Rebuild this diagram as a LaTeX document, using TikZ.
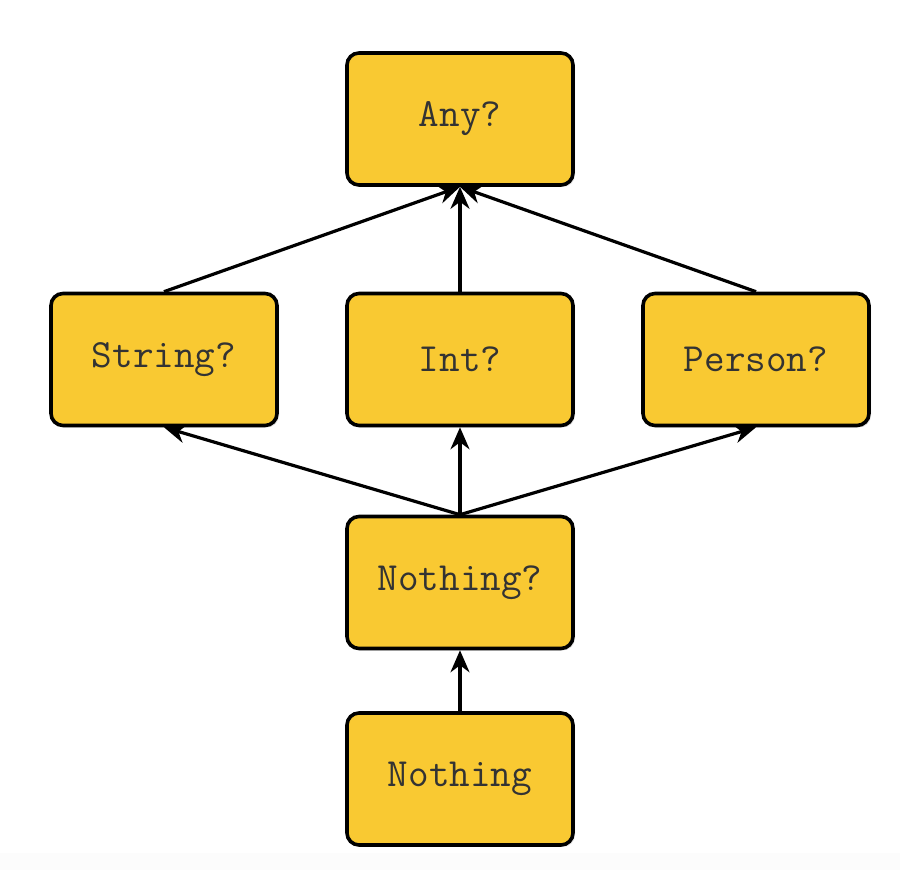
\documentclass[tikz,border=0pt]{standalone}
\usepackage{fontspec}
\usetikzlibrary{arrows.meta,shadows}
\definecolor{boxfill}{HTML}{F9C932}
\definecolor{txt}{HTML}{333333}
\begin{document}
\begin{tikzpicture}[x=1pt,y=1pt,
  typebox/.style={draw=black, line width=3.6pt, fill=boxfill, rounded corners=12pt,
    minimum width=226pt, minimum height=132pt, inner sep=0pt, text=txt,
    font=\ttfamily\fontsize{40}{44}\selectfont,
    drop shadow={shadow xshift=2pt, shadow yshift=-2pt, opacity=0.12, fill=black}},
  link/.style={draw=black, line width=3.2pt, -{Stealth[length=22pt,width=19pt,inset=7pt]}}]
\useasboundingbox (0,0) rectangle (900,870);
\fill[white] (0,0) rectangle (900,870);
\fill[black!1.2] (0,0) rectangle (900,17);
\node[typebox] (any) at (460,751) {Any?};
\node[typebox] (str) at (164,510.5) {String?};
\node[typebox] (int) at (460,510.5) {Int?};
\node[typebox] (per) at (756,510.5) {Person?};
\node[typebox] (nq) at (460,287.5) {Nothing?};
\node[typebox] (no) at (460,91) {Nothing};
\draw[link] (str.north) -- (any.south);
\draw[link] (int.north) -- (any.south);
\draw[link] (per.north) -- (any.south);
\draw[link] (nq.north) -- (str.south);
\draw[link] (nq.north) -- (int.south);
\draw[link] (nq.north) -- (per.south);
\draw[link] (no.north) -- (nq.south);
\end{tikzpicture}
\end{document}
